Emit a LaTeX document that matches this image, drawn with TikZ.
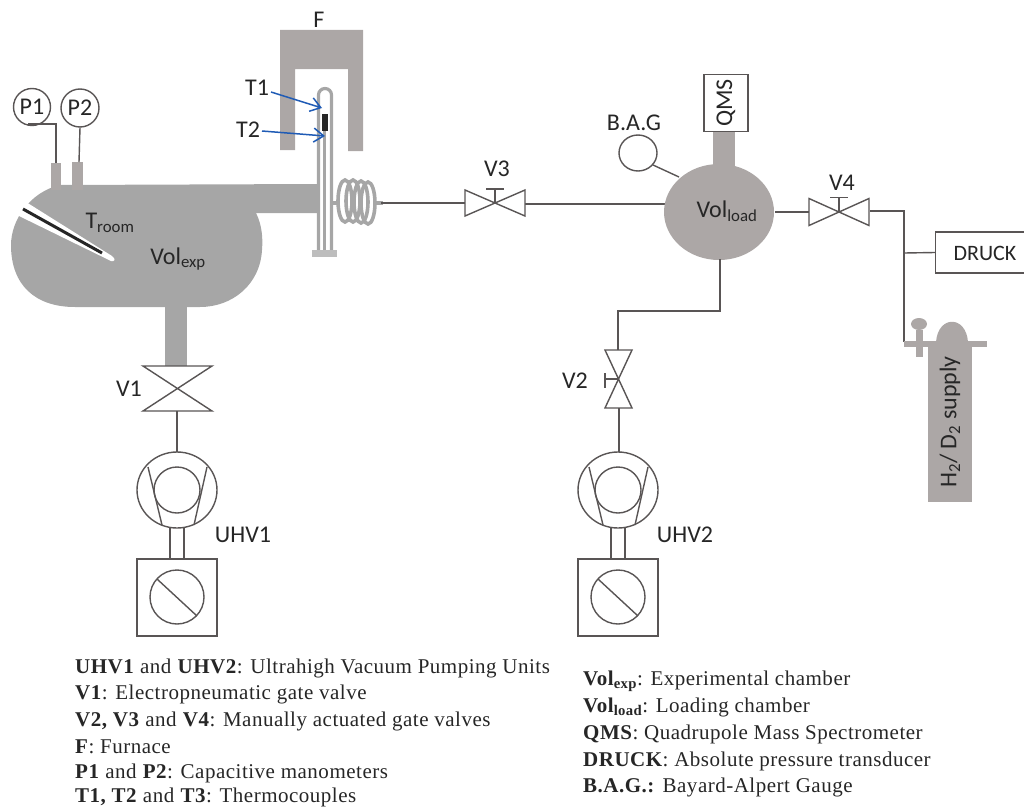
\documentclass[tikz,border=0pt]{standalone}
\usepackage{fontspec}
\setmainfont{Carlito}
\newfontfamily\legendfont[LetterSpace=2.4]{Liberation Serif}
\usetikzlibrary{arrows.meta,shapes.geometric}
\definecolor{chamber}{HTML}{A6A6A6}
\definecolor{warm}{HTML}{ACA7A6}
\definecolor{pale}{HTML}{BDBDBD}
\definecolor{ink}{HTML}{595555}
\definecolor{arrowblue}{HTML}{1F5BB5}
\tikzset{
  pipe/.style={draw=ink,line width=1.4pt},
  lab/.style={inner sep=0pt,font=\fontsize{24}{26}\selectfont,text=black!85},
  legendl/.style={inner sep=0pt,anchor=west,font=\legendfont\fontsize{21}{23}\selectfont,text=black!85},
  tube/.style={draw=chamber,line width=3.2pt},
  tag/.style={draw=arrowblue,line width=1.5pt,-{Straight Barb[length=10pt,width=14pt]}}
}
\newcommand{\hvalve}[4]{% x y halfwidth halfheight
  \draw[pipe,fill=white,line join=miter] (#1-#3,#2-#4) -- (#1+#3,#2+#4) -- (#1+#3,#2-#4) -- (#1-#3,#2+#4) -- cycle;
  \draw[pipe] (#1,#2) -- (#1,#2-#4-1) (#1-9,#2-#4-1) -- (#1+9,#2-#4-1);}
\newcommand{\pumpunit}[2]{% centre x, suffix
  \draw[pipe] (#1,490) ellipse (40 and 38);
  \draw[pipe] (#1,490) circle (23);
  \draw[pipe] (#1-29,467) -- (#1-15,525) (#1+30,467) -- (#1+17,525);
  \draw[pipe] (#1-7,528) -- (#1-7,559) (#1+7,528) -- (#1+7,559);
  \node[draw=ink,line width=1.4pt,minimum width=80pt,minimum height=77pt,inner sep=0pt] (box#2) at (#1,597.5) {};
  \draw[pipe] (#1,597) circle (27);
  \draw[pipe] (#1-20,579) -- (#1+20,616);}
\begin{document}
\begin{tikzpicture}[x=1pt,y=-1pt]
\useasboundingbox (0,0) rectangle (1024,808);
% ---- experimental chamber
\fill[chamber] (60,185) -- (318,184) -- (318,213) -- (256,213)
  .. controls (262,225) and (263,238) .. (262,250)
  .. controls (260,285) and (232,307) .. (200,307) -- (75,307)
  .. controls (35,307) and (11,285) .. (11,245)
  .. controls (11,220) and (30,192) .. (60,185) -- cycle;
\fill[chamber] (165,300) rectangle (187,366);
\fill[warm] (51,163) rectangle (61,190);
\fill[warm] (72,162) rectangle (83,190);
% thermometer slot
\fill[white] (26,202) -- (112,256) .. controls (116,259) and (115,262) .. (111,261) -- (17,215) -- cycle;
\draw[black!85,line width=3pt] (23,209) -- (102,253);
% P1 P2
\node[draw=ink,line width=1.4pt,circle,minimum size=37pt,inner sep=0pt,font=\fontsize{24}{26}\selectfont,text=black!85] (P1) at (32,107) {P1};
\node[draw=ink,line width=1.4pt,circle,minimum size=38pt,inner sep=0pt,font=\fontsize{24}{26}\selectfont,text=black!85] (P2) at (80,108) {P2};
\coordinate (p1s) at (56,163); \coordinate (p2s) at (79,162);
\draw[pipe] (28,124) -- (56,124) -- (p1s);
\draw[pipe] (P2.south) -- (p2s);
% ---- furnace
\fill[warm] (280,30) -- (363,30) -- (363,151) -- (348,151) -- (348,69) -- (295,69) -- (295,150) -- (280,150) -- cycle;
\node[lab] (F) at (319,20) {F};
% tube
\draw[tube] (318.5,250) -- (318.5,95) arc (180:360:6.5) -- (331.5,250);
\draw[draw=chamber,line width=3.5pt] (324.5,131) -- (324.5,250);
\fill[pale] (312,250) rectangle (337,257);
\fill[black!85] (322,114) rectangle (328,131);
% coil
\draw[tube] (332,203) -- (338,203) (375,203) -- (383,203);
\foreach \cx/\cy in {345/201,353/201,361/202,368/203}
  \draw[tube,line width=3.6pt] (\cx,\cy) ellipse (7 and 21);
% T labels and arrows
\node[lab] (T1) at (257,88) {T1};
\node[lab] (T2) at (248,130) {T2};
\coordinate (t1e) at (322,108); \coordinate (t2e) at (325,136);
\draw[tag] (271,92) -- (t1e);
\draw[tag] (262,131) -- (t2e);
\node[lab] (Troom) at (110,223) {T\textsubscript{room}};
\node[lab] (Volexp) at (178,259) {Vol\textsubscript{exp}};
% ---- line V3
\coordinate (coilend) at (381,203);
\coordinate (v3l) at (465,203); \coordinate (v3r) at (525,204); \coordinate (loadw) at (666,204);
\draw[pipe] (coilend) -- (v3l);
\draw[pipe] (v3r) -- (loadw);
\hvalve{495}{203}{30}{13}
\node[lab] (V3) at (497,169) {V3};
% ---- V1
\draw[pipe,fill=white] (143,366) -- (212,366) -- (143,411) -- (212,411) -- cycle;
\node[lab] (V1) at (129,389) {V1};
\coordinate (v1b) at (177,411); \coordinate (pump1t) at (177,452);
\draw[pipe] (v1b) -- (pump1t);
\pumpunit{177}{a}
\node[lab] (UHV1) at (243,535) {UHV1};
% ---- loading chamber
\fill[warm] (713,125) rectangle (735,180);
\node[draw=ink,line width=1.4pt,minimum width=44pt,minimum height=57pt,inner sep=0pt,fill=white] (QMS) at (726,103) {};
\node[lab,rotate=90] (qmslab) at (726,103) {QMS};
\node[ellipse,fill=warm,minimum width=110pt,minimum height=96pt,inner sep=0pt] (load) at (719,212) {};
\node[lab] (Volload) at (727,211) {Vol\textsubscript{load}};
\draw[pipe] (638,153) ellipse (19 and 18);
\node[lab] (BAG) at (634,123) {B.A.G};
\coordinate (bag1) at (653,165); \coordinate (bag2) at (679,177);
\draw[pipe] (bag1) -- (bag2);
% ---- V4 and supply
\coordinate (v4a) at (775,212); \coordinate (v4l) at (809,212);
\draw[pipe] (v4a) -- (v4l);
\hvalve{839}{212}{30}{13.5}
\node[lab] (V4) at (842,183) {V4};
\node[draw=ink,line width=1.4pt,minimum width=100pt,minimum height=41pt,inner sep=0pt,anchor=west] (DRUCK) at (935,252.5) {};
\node[lab,font=\fontsize{22}{24}\selectfont] (drucklab) at (985,253) {DRUCK};
\coordinate (j1) at (904,211); \coordinate (j2) at (904,253); \coordinate (j3) at (904,342);
\draw[pipe] (870,211) -- (j1) -- (j3);
\draw[pipe] (j2) -- (DRUCK.west);
\fill[warm] (928,345) rectangle (972,502);
\fill[warm] (936,342) .. controls (938,315) and (966,315) .. (968,342) -- cycle;
\fill[warm] (904,341) rectangle (987,347);
\fill[warm] (916,330) rectangle (923,357);
\fill[warm] (919,324) ellipse (8 and 6);
\node[lab,rotate=90] (supply) at (950,422) {H\textsubscript{2}/ D\textsubscript{2} supply};
% ---- V2 branch
\coordinate (l1) at (720,259); \coordinate (l2) at (720,311); \coordinate (l3) at (618,311); \coordinate (l4) at (618,350);
\draw[pipe] (l1) -- (l2) -- (l3) -- (l4);
\draw[pipe,fill=white] (605,350) -- (632,350) -- (605,408) -- (632,408) -- cycle;
\draw[pipe] (605,379) -- (619,379) (605,373) -- (605,388);
\node[lab] (V2) at (575,381) {V2};
\coordinate (v2b) at (619,408); \coordinate (pump2t) at (619,452);
\draw[pipe] (v2b) -- (pump2t);
\pumpunit{618}{b}
\node[lab] (UHV2) at (685,535) {UHV2};
% ---- legend
\node[legendl] (la) at (75,668) {\textbf{UHV1} and \textbf{UHV2}: Ultrahigh Vacuum Pumping Units};
\node[legendl] (lb) at (75,694) {\textbf{V1}: Electropneumatic gate valve};
\node[legendl] (lc) at (75,721) {\textbf{V2, V3} and \textbf{V4}: Manually actuated gate valves};
\node[legendl] (ld) at (75,747) {\textbf{F}: Furnace};
\node[legendl] (le) at (75,773) {\textbf{P1} and \textbf{P2}: Capacitive manometers};
\node[legendl] (lf) at (75,797) {\textbf{T1, T2} and \textbf{T3}: Thermocouples};
\node[legendl] (ra) at (583,681) {\textbf{Vol\textsubscript{exp}}: Experimental chamber};
\node[legendl] (rb) at (583,707) {\textbf{Vol\textsubscript{load}}: Loading chamber};
\node[legendl] (rc) at (583,734) {\textbf{QMS}: Quadrupole Mass Spectrometer};
\node[legendl] (rd) at (583,761) {\textbf{DRUCK}: Absolute pressure transducer};
\node[legendl] (re) at (583,787) {\textbf{B.A.G.:} Bayard-Alpert Gauge};
\end{tikzpicture}
\end{document}
